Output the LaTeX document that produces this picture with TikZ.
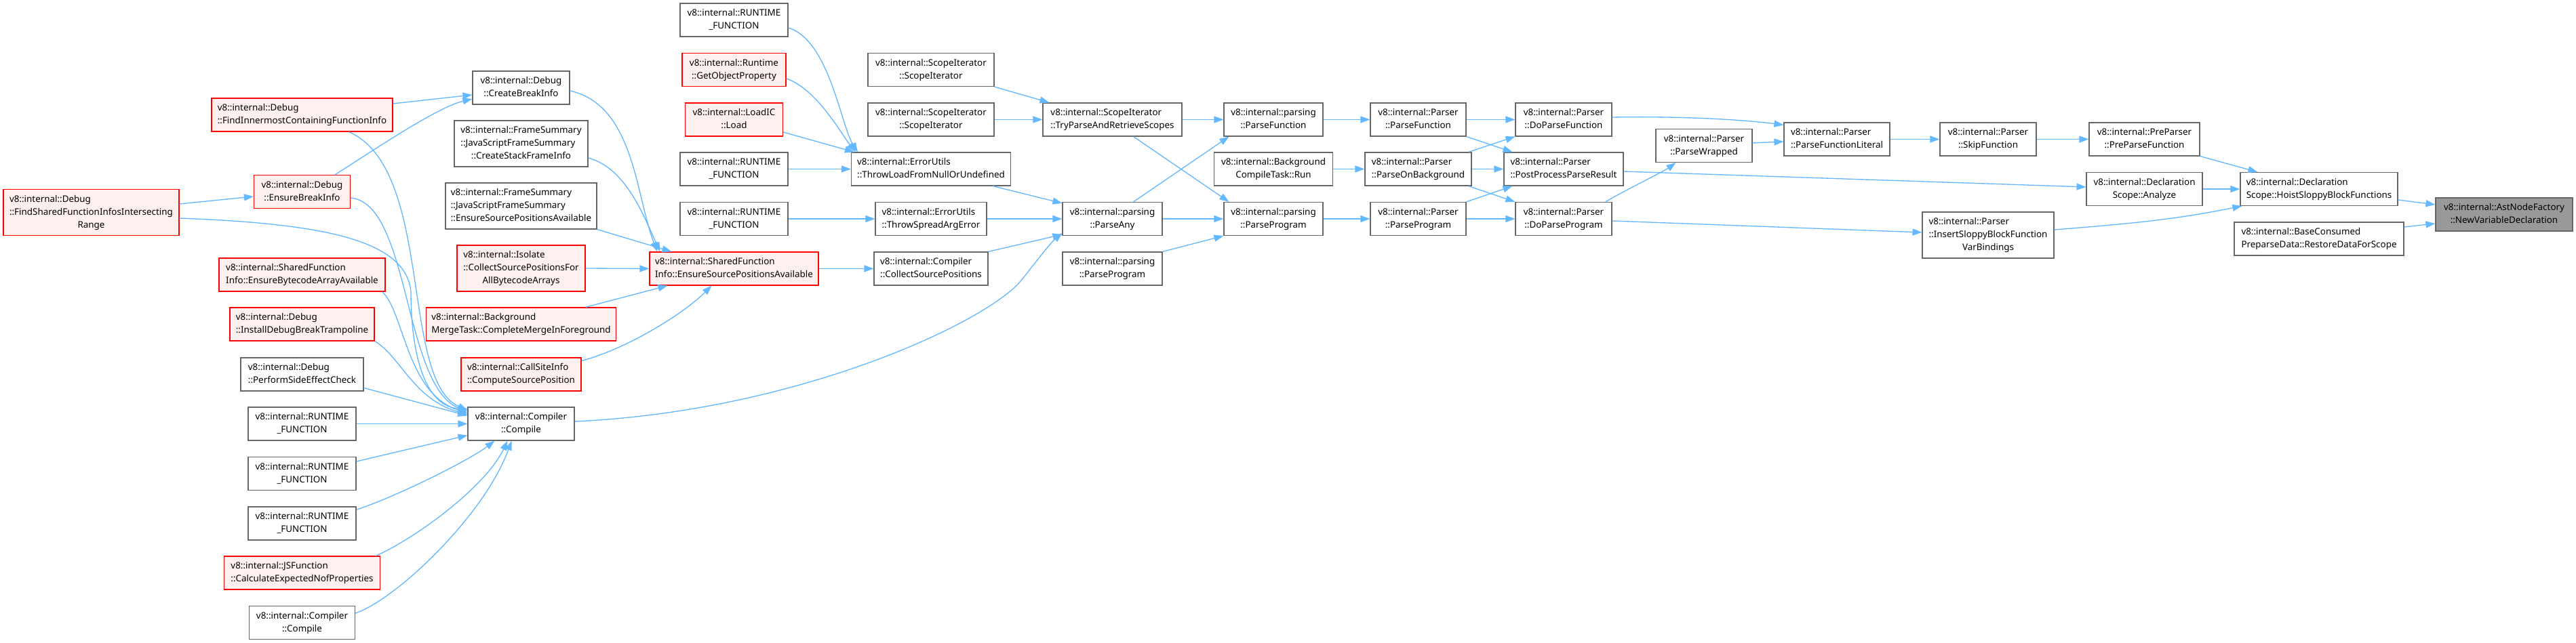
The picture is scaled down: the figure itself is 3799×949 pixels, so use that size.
\documentclass[tikz,border=0pt]{standalone}
\usepackage{fontspec}
\usetikzlibrary{arrows.meta}
\newfontfamily\gfam{Noto Sans}
\newcommand\gfont{\gfam\fontsize{13.4}{19}\selectfont}
\newcommand\twol[2]{\begin{tabular}{@{}l@{}}#1\\\multicolumn{1}{@{}c@{}}{#2}\end{tabular}}
\newcommand\threel[3]{\begin{tabular}{@{}l@{}}#1\\#2\\\multicolumn{1}{@{}c@{}}{#3}\end{tabular}}
\newcommand\rtf{\twol{v8::internal::RUNTIME}{\_FUNCTION}}
\definecolor{edgeblue}{HTML}{63B8FF}
\definecolor{greyforty}{HTML}{666666}
\definecolor{greysixty}{HTML}{999999}
\definecolor{pinkfill}{HTML}{FFF0F0}
\definecolor{boxred}{HTML}{FF0000}
\tikzset{
  fn/.style={draw=greyforty, fill=white, line width=1.15pt, inner sep=0pt, font=\gfont, text=black},
  fnred/.style={fn, draw=boxred, fill=pinkfill},
  fntgt/.style={fn, draw=greyforty, fill=greysixty},
  sz/.style 2 args={minimum width=#1pt, minimum height=#2pt},
  ca/.style={draw=edgeblue, line width=1.33pt, -{Triangle[length=14pt,width=10pt]}}
}
\begin{document}
\begin{tikzpicture}[x=1pt,y=-1pt]
\fill[white] (0,0) rectangle (3799,949);
\useasboundingbox (0,0) rectangle (3799,949);

% nodes
\node[fntgt, sz={202}{49}] (T) at (3693,316.5) {\twol{v8::internal::AstNodeFactory}{::NewVariableDeclaration}};
\node[fn, sz={232}{49}] (HSB) at (3420,279) {\twol{v8::internal::Declaration}{Scope::HoistSloppyBlockFunctions}};
\node[fn, sz={250}{49}] (RDS) at (3420,352.5) {\twol{v8::internal::BaseConsumed}{PreparseData::RestoreDataForScope}};
\node[fn, sz={163}{49}] (PPF) at (3162.5,205.5) {\twol{v8::internal::PreParser}{::PreParseFunction}};
\node[fn, sz={171}{49}] (DSA) at (3162.5,279) {\twol{v8::internal::Declaration}{Scope::Analyze}};
\node[fn, sz={142}{49}] (SF) at (2932,205.5) {\twol{v8::internal::Parser}{::SkipFunction}};
\node[fn, sz={194}{68}] (ISB) at (2932,347) {\threel{v8::internal::Parser}{::InsertSloppyBlockFunction}{VarBindings}};
\node[fn, sz={156}{49}] (PFL) at (2709,205.5) {\twol{v8::internal::Parser}{::ParseFunctionLiteral}};
\node[fn, sz={142}{49}] (PW) at (2513,215) {\twol{v8::internal::Parser}{::ParseWrapped}};
\node[fn, sz={142}{49}] (DPF) at (2306,176.5) {\twol{v8::internal::Parser}{::DoParseFunction}};
\node[fn, sz={176}{49}] (PPR) at (2306,249.5) {\twol{v8::internal::Parser}{::PostProcessParseResult}};
\node[fn, sz={142}{49}] (DPP) at (2306,323) {\twol{v8::internal::Parser}{::DoParseProgram}};
\node[fn, sz={141}{49}] (PaPF) at (2091.5,176.5) {\twol{v8::internal::Parser}{::ParseFunction}};
\node[fn, sz={157}{49}] (POB) at (2091.5,249.5) {\twol{v8::internal::Parser}{::ParseOnBackground}};
\node[fn, sz={141}{49}] (PaPP) at (2091.5,323) {\twol{v8::internal::Parser}{::ParseProgram}};
\node[fn, sz={146}{49}] (pPF) at (1878,176.5) {\twol{v8::internal::parsing}{::ParseFunction}};
\node[fn, sz={175}{49}] (BCT) at (1878,249.5) {\twol{v8::internal::Background}{CompileTask::Run}};
\node[fn, sz={146}{49}] (pPP) at (1878,323) {\twol{v8::internal::parsing}{::ParseProgram}};
\node[fn, sz={205}{49}] (TPS) at (1640.5,176.5) {\twol{v8::internal::ScopeIterator}{::TryParseAndRetrieveScopes}};
\node[fn, sz={147}{49}] (PA) at (1640.5,323) {\twol{v8::internal::parsing}{::ParseAny}};
\node[fn, sz={147}{49}] (pPPb) at (1640.5,396.5) {\twol{v8::internal::parsing}{::ParseProgram}};
\node[fn, sz={186}{49}] (SIa) at (1373,103) {\twol{v8::internal::ScopeIterator}{::ScopeIterator}};
\node[fn, sz={186}{49}] (SIb) at (1373,176.5) {\twol{v8::internal::ScopeIterator}{::ScopeIterator}};
\node[fn, sz={235}{49}] (TLN) at (1373,249.5) {\twol{v8::internal::ErrorUtils}{::ThrowLoadFromNullOrUndefined}};
\node[fn, sz={164}{49}] (TSA) at (1373,323) {\twol{v8::internal::ErrorUtils}{::ThrowSpreadArgError}};
\node[fn, sz={168}{49}] (CSP) at (1373,396.5) {\twol{v8::internal::Compiler}{::CollectSourcePositions}};
\node[fn, sz={159}{49}] (RFa) at (1082.5,29.5) {\rtf};
\node[fnred, sz={153}{49}] (GOP) at (1082.5,103) {\twol{v8::internal::Runtime}{::GetObjectProperty}};
\node[fnred, sz={144}{49}] (LIC) at (1082.5,176.5) {\twol{v8::internal::LoadIC}{::Load}};
\node[fn, sz={159}{49}] (RFb) at (1082.5,249.5) {\rtf};
\node[fn, sz={159}{49}] (RFc) at (1082.5,323) {\rtf};
\node[fnred, sz={249}{49}] (ESPA) at (1082.5,396.5) {\twol{v8::internal::SharedFunction}{Info::EnsureSourcePositionsAvailable}};
\node[fn, sz={143}{49}] (CBI) at (768.5,129.5) {\twol{v8::internal::Debug}{::CreateBreakInfo}};
\node[fn, sz={197}{68}] (CSFI) at (768.5,212) {\threel{v8::internal::FrameSummary}{::JavaScriptFrameSummary}{::CreateStackFrameInfo}};
\node[fn, sz={223}{68}] (JESPA) at (768.5,304) {\threel{v8::internal::FrameSummary}{::JavaScriptFrameSummary}{::EnsureSourcePositionsAvailable}};
\node[fnred, sz={189}{68}] (CSPA) at (768.5,396) {\threel{v8::internal::Isolate}{::CollectSourcePositionsFor}{AllBytecodeArrays}};
\node[fnred, sz={280}{49}] (CMF) at (768.5,478.5) {\twol{v8::internal::Background}{MergeTask::CompleteMergeInForeground}};
\node[fnred, sz={177}{49}] (CSrcP) at (768.5,552.5) {\twol{v8::internal::CallSiteInfo}{::ComputeSourcePosition}};
\node[fn, sz={157}{49}] (CC) at (768.5,625.5) {\twol{v8::internal::Compiler}{::Compile}};
\node[fnred, sz={259}{68}] (FSR) at (134.5,313.5) {\threel{v8::internal::Debug}{::FindSharedFunctionInfosIntersecting}{Range}};
\node[fnred, sz={267}{49}] (FIC) at (445.5,169.5) {\twol{v8::internal::Debug}{::FindInnermostContainingFunctionInfo}};
\node[fnred, sz={142}{49}] (EBI) at (445.5,283) {\twol{v8::internal::Debug}{::EnsureBreakInfo}};
\node[fnred, sz={245}{49}] (EBA) at (445.5,405.5) {\twol{v8::internal::SharedFunction}{Info::EnsureBytecodeArrayAvailable}};
\node[fnred, sz={213}{49}] (IDB) at (445.5,478.5) {\twol{v8::internal::Debug}{::InstallDebugBreakTrampoline}};
\node[fn, sz={181}{49}] (PSE) at (445.5,552.5) {\twol{v8::internal::Debug}{::PerformSideEffectCheck}};
\node[fn, sz={159}{49}] (RFd) at (445.5,625.5) {\rtf};
\node[fn, sz={159}{49}] (RFe) at (445.5,699) {\rtf};
\node[fn, sz={159}{49}] (RFf) at (445.5,772.5) {\rtf};
\node[fnred, sz={230}{49}] (CEN) at (445.5,845.5) {\twol{v8::internal::JSFunction}{::CalculateExpectedNofProperties}};
\node[fn, sz={156}{49}] (CCb) at (445.5,919) {\twol{v8::internal::Compiler}{::Compile}};

% edges (right part)
\draw[ca] ([yshift=-16pt]HSB.east) -- ([yshift=14.5pt]T.west);
\draw[ca] ([yshift=17.5pt]RDS.east) -- ([yshift=-13.5pt]T.west);
\draw[ca] (PPF.south east) -- ([xshift=26pt]HSB.north west);
\draw[ca] (DSA.east) -- (HSB.west);
\draw[ca] ([yshift=8pt]ISB.east) .. controls +(130,-10) and +(-90,18) .. ([xshift=3pt]HSB.south west);
\draw[ca] (SF.east) -- (PPF.west);
\draw[ca] (PFL.east) -- (SF.west);
\draw[ca] ([yshift=4pt]PW.east) -- ([yshift=-3.5pt]PFL.west);
\draw[ca] ([yshift=3.5pt]DPF.east) .. controls +(120,-2) and +(-45,-6) .. ([yshift=-4pt]PFL.north west);
\draw[ca] ([yshift=-3.5pt]PPR.east) -- ([yshift=3pt]DSA.west);
\draw[ca] ([yshift=-3pt]DPP.east) -- ([yshift=4pt]ISB.west);
\draw[ca] ([xshift=-10pt]DPP.north east) .. controls +(25,-15) and +(-18,13) .. ([xshift=30pt]PW.south west);
\draw[ca] (PaPF.east) -- (DPF.west);
\draw[ca] (PaPF.south east) -- ([xshift=13pt]PPR.north west);
\draw[ca] ([xshift=-5pt]POB.north east) -- (DPF.south west);
\draw[ca] (POB.east) -- (PPR.west);
\draw[ca] ([xshift=-5pt]POB.south east) -- (DPP.north west);
\draw[ca] (PaPP.north east) -- ([xshift=13pt]PPR.south west);
\draw[ca] (PaPP.east) -- (DPP.west);
\draw[ca] (pPF.east) -- (PaPF.west);
\draw[ca] (BCT.east) -- (POB.west);
\draw[ca] (pPP.east) -- (PaPP.west);
\draw[ca] (TPS.east) -- (pPF.west);
\draw[ca] ([xshift=31pt]PA.north) -- ([xshift=8pt]pPF.south west);
\draw[ca] ([xshift=31pt]TPS.south) -- ([xshift=8pt]pPP.north west);
\draw[ca] (PA.east) -- (pPP.west);
\draw[ca] (pPPb.north east) -- (pPP.south west);
\draw[ca] (SIa.south east) -- ([xshift=10pt]TPS.north west);
\draw[ca] (SIb.east) -- (TPS.west);
\draw[ca] ([xshift=-27pt]TLN.south east) -- ([yshift=-2pt]PA.north west);
\draw[ca] (TSA.east) -- (PA.west);
\draw[ca] (CSP.north east) -- ([yshift=2pt]PA.south west);
\draw[ca] ([yshift=3.5pt]CC.east) .. controls +(330,-15) and +(-50,60) .. (1505,415) .. controls +(15,-18) and +(-20,17) .. ([yshift=4pt]PA.south west);
\draw[ca] (ESPA.east) -- (CSP.west);
\draw[ca] (RFc.east) -- (TSA.west);
\draw[ca] (RFb.east) -- (TLN.west);
\draw[ca] ([yshift=-11.5pt]RFa.east) .. controls +(60,18) and +(-25,-40) .. ([xshift=10pt]TLN.north west);
\draw[ca] ([yshift=-13pt]GOP.east) .. controls +(45,15) and +(-20,-25) .. ([xshift=7pt]TLN.north west);
\draw[ca] ([yshift=-18.5pt]LIC.east) -- ([xshift=5pt]TLN.north west);

% edges into EnsureSourcePositionsAvailable
\draw[ca] (CSPA.east) -- (ESPA.west);
\draw[ca] (JESPA.south east) -- ([xshift=33pt]ESPA.north west);
\draw[ca] ([yshift=-4.5pt]CBI.east) .. controls +(95,21) and +(-32,-82) .. ([xshift=12pt]ESPA.north west);
\draw[ca] ([yshift=-21pt]CSFI.east) .. controls +(55,15) and +(-25,-55) .. ([xshift=16pt]ESPA.north west);
\draw[ca] ([xshift=95pt]CMF.north) -- ([xshift=27pt]ESPA.south west);
\draw[ca] ([yshift=-5pt]CSrcP.north east) .. controls +(60,-15) and +(-45,45) .. ([xshift=92pt]ESPA.south west);

% left part
\draw[ca] ([yshift=12.5pt]FSR.east) -- ([yshift=-7pt]EBI.west);
\draw[ca] ([yshift=16.5pt]FIC.east) -- ([yshift=-10.5pt]CBI.west);
\draw[ca] ([xshift=-23pt]EBI.north east) .. controls +(70,-45) and +(-50,12) .. ([yshift=-16.5pt]CBI.west);
\draw[ca] ([yshift=-8.5pt]FSR.east) .. controls +(205,8) and +(-8,-78) .. (606,430) .. controls +(0,100) and +(-60,-3) .. ([yshift=22pt]CC.west);
\draw[ca] ([xshift=-65pt]FIC.south east) .. controls +(126,56) and +(-100,-44) .. ([yshift=20pt]CC.west);
\draw[ca] ([yshift=-9pt]EBI.east) .. controls +(88,8) and +(-95,-38) .. ([yshift=18pt]CC.west);
\draw[ca] ([xshift=-5pt]EBA.south east) .. controls +(32,28) and +(-90,-28) .. ([yshift=16pt]CC.west);
\draw[ca] (IDB.south east) .. controls +(38,22) and +(-80,-22) .. ([yshift=14pt]CC.west);
\draw[ca] ([yshift=-20pt]PSE.east) -- ([yshift=12pt]CC.west);
\draw[ca] (RFd.east) -- (CC.west);
\draw[ca] ([yshift=18pt]RFe.east) -- ([yshift=-17pt]CC.west);
\draw[ca] ([yshift=-5pt]RFf.north east) .. controls +(65,-22) and +(-35,27) .. ([xshift=40pt]CC.south west);
\draw[ca] ([xshift=-7pt]CEN.north east) .. controls +(57,-25) and +(-33,69) .. ([xshift=-20pt]CC.south);
\draw[ca] ([yshift=14pt]CCb.east) .. controls +(60,-20) and +(-40,110) .. ([xshift=-14pt]CC.south);
\end{tikzpicture}
\end{document}
